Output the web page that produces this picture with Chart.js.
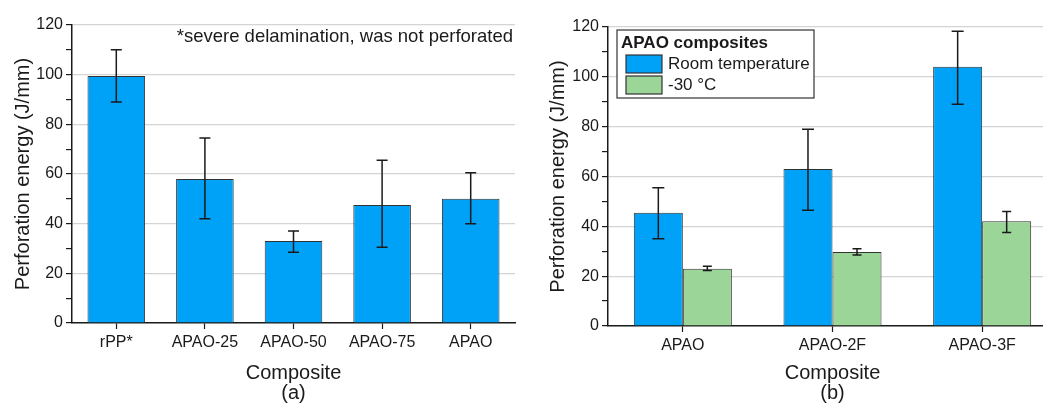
<!DOCTYPE html>
<html>
<head>
<meta charset="utf-8">
<script src="https://cdn.jsdelivr.net/npm/chart.js@4.4.1/dist/chart.umd.min.js"></script>
<style>
  html, body { margin: 0; padding: 0; background: #fff; overflow: hidden; }
  #wrap { position: relative; width: 1043px; height: 403px; overflow: hidden; }
  #boxA { position: absolute; left: 0; top: 0; width: 530px; height: 403px; }
  #boxB { position: absolute; left: 530px; top: 0; width: 530px; height: 403px; }
</style>
</head>
<body>
<div id="wrap">
  <div id="boxA"><canvas id="chartA" width="530" height="403"></canvas></div>
  <div id="boxB"><canvas id="chartB" width="530" height="403"></canvas></div>
</div>
<script>
// 数据 (a)
const labelsA = ['rPP*', 'APAO-25', 'APAO-50', 'APAO-75', 'APAO'];
const valuesA = [99.5, 58, 33, 47.5, 50];
const errLowA = [89, 42, 28.5, 30.5, 40];
const errHighA = [110, 74.5, 37, 65.5, 60.5];

// 数据 (b)
const labelsB = ['APAO', 'APAO-2F', 'APAO-3F'];
const seriesNamesB = ['Room temperature', '-30 °C'];
const roomTemp = [45.5, 63, 104];
const roomLow = [35, 46.5, 89];
const roomHigh = [55.5, 79, 118.3];
const coldTemp = [23, 29.7, 42];
const coldLow = [22.3, 28.5, 37.5];
const coldHigh = [24, 31, 46];

const yTicks = [0, 20, 40, 60, 80, 100, 120];

const BLUE = '#00A2F7';
const GREEN = '#9BD598';
const FONT = "'Liberation Sans', Arial, sans-serif";
const INK = '#1a1a1a';

Chart.defaults.font.family = FONT;
Chart.defaults.color = INK;
Chart.defaults.animation = false;

// 误差线插件
const errorBars = {
    id: 'errorBars',
    afterDatasetsDraw(chart) {
        const ctx = chart.ctx;
        const y = chart.scales.y;
        chart.data.datasets.forEach((ds, di) => {
            if (!ds.errLow) return;
            const meta = chart.getDatasetMeta(di);
            meta.data.forEach((bar, i) => {
                const x = bar.x;
                const yl = y.getPixelForValue(ds.errLow[i]);
                const yh = y.getPixelForValue(ds.errHigh[i]);
                const cap = ds.capWidth || 11;
                ctx.save();
                ctx.strokeStyle = INK;
                ctx.lineWidth = 1.5;
                ctx.beginPath();
                ctx.moveTo(x, yl); ctx.lineTo(x, yh);
                ctx.moveTo(x - cap / 2, yl); ctx.lineTo(x + cap / 2, yl);
                ctx.moveTo(x - cap / 2, yh); ctx.lineTo(x + cap / 2, yh);
                ctx.stroke();
                ctx.restore();
            });
        });
    }
};

// 注释文字
const noteText = {
    id: 'noteText',
    afterDraw(chart, args, opts) {
        if (!opts.text) return;
        const ctx = chart.ctx;
        const a = chart.chartArea;
        ctx.save();
        ctx.font = '18.5px ' + FONT;
        ctx.fillStyle = INK;
        ctx.textAlign = 'right';
        ctx.textBaseline = 'middle';
        ctx.fillText(opts.text, a.right - 2, a.top + 12);
        ctx.restore();
    }
};

// 图例框
const boxLegend = {
    id: 'boxLegend',
    afterDraw(chart, args, opts) {
        if (!opts.title) return;
        const ctx = chart.ctx;
        const a = chart.chartArea;
        const x0 = a.left + 9, y0 = a.top + 3, w = 197, h = 68;
        ctx.save();
        ctx.fillStyle = '#fff';
        ctx.fillRect(x0, y0, w, h);
        ctx.strokeStyle = '#333';
        ctx.lineWidth = 1.2;
        ctx.strokeRect(x0, y0, w, h);
        ctx.fillStyle = INK;
        ctx.textBaseline = 'middle';
        ctx.font = 'bold 17px ' + FONT;
        ctx.fillText(opts.title, x0 + 4, y0 + 13);
        ctx.font = '17px ' + FONT;
        chart.data.datasets.forEach((ds, i) => {
            const sy = y0 + 25 + i * 21;
            ctx.fillStyle = ds.backgroundColor;
            ctx.fillRect(x0 + 9, sy, 36, 18);
            ctx.strokeStyle = '#333';
            ctx.strokeRect(x0 + 9, sy, 36, 18);
            ctx.fillStyle = INK;
            ctx.fillText(ds.label, x0 + 51, sy + 9);
        });
        ctx.restore();
    }
};

function yScale(fitWidth, titlePad) {
    return {
        min: 0,
        max: 120,
        afterFit: s => { s.width = fitWidth; },
        afterBuildTicks: s => {
            const t = [];
            for (let v = 0; v <= 120; v += 10) t.push({ value: v });
            s.ticks = t;
        },
        ticks: {
            font: { size: 16 },
            color: INK,
            padding: 3,
            callback: v => (yTicks.includes(v) ? v : '')
        },
        grid: {
            color: c => (c.tick && c.tick.value % 20 === 0 && c.tick.value !== 0) ? '#d4d4d4' : 'rgba(0,0,0,0)',
            lineWidth: 1.2,
            tickColor: INK,
            tickLength: 6,
            tickWidth: 1.2
        },
        border: { display: true, color: INK, width: 1.5 },
        title: {
            display: true,
            text: 'Perforation energy (J/mm)',
            font: { size: 20 },
            color: INK,
            padding: { top: titlePad, bottom: 0 }
        }
    };
}

function xScale(fitHeight, sub) {
    return {
        afterFit: s => { s.height = fitHeight; },
        ticks: { font: { size: 16 }, color: INK, padding: 4 },
        grid: {
            offset: false,
            drawOnChartArea: false,
            tickColor: INK,
            tickLength: 6,
            tickWidth: 1.2
        },
        border: { display: true, color: INK, width: 1.5 },
        title: {
            display: true,
            text: ['Composite', sub],
            font: { size: 20, lineHeight: 1.0 },
            color: INK,
            padding: { top: 8, bottom: 0 }
        }
    };
}

const chartA = new Chart(document.getElementById('chartA'), {
    type: 'bar',
    data: {
        labels: labelsA,
        datasets: [{
            label: 'Perforation energy',
            data: valuesA,
            errLow: errLowA,
            errHigh: errHighA,
            capWidth: 11,
            backgroundColor: BLUE,
            borderColor: '#333',
            borderWidth: 1,
            categoryPercentage: 1,
            barPercentage: 0.65
        }]
    },
    options: {
        responsive: false,
        layout: { padding: { left: 0, top: 25, right: 15, bottom: 0 } },
        plugins: {
            legend: { display: false },
            tooltip: { enabled: false },
            noteText: { text: '*severe delamination, was not perforated' }
        },
        scales: { x: xScale(80, '(a)'), y: yScale(72, 11) }
    },
    plugins: [errorBars, noteText]
});

const chartB = new Chart(document.getElementById('chartB'), {
    type: 'bar',
    data: {
        labels: labelsB,
        datasets: [{
            label: seriesNamesB[0],
            data: roomTemp,
            errLow: roomLow,
            errHigh: roomHigh,
            capWidth: 12,
            backgroundColor: BLUE,
            borderColor: '#333',
            borderWidth: 1,
            categoryPercentage: 0.655,
            barPercentage: 1
        }, {
            label: seriesNamesB[1],
            data: coldTemp,
            errLow: coldLow,
            errHigh: coldHigh,
            capWidth: 9,
            backgroundColor: GREEN,
            borderColor: '#333',
            borderWidth: 1,
            categoryPercentage: 0.655,
            barPercentage: 1
        }]
    },
    options: {
        responsive: false,
        layout: { padding: { left: 0, top: 27, right: 3, bottom: 0 } },
        plugins: {
            legend: { display: false },
            tooltip: { enabled: false },
            boxLegend: { title: 'APAO composites' }
        },
        scales: { x: xScale(77, '(b)'), y: yScale(78, 16) }
    },
    plugins: [errorBars, boxLegend]
});
</script>
</body>
</html>
